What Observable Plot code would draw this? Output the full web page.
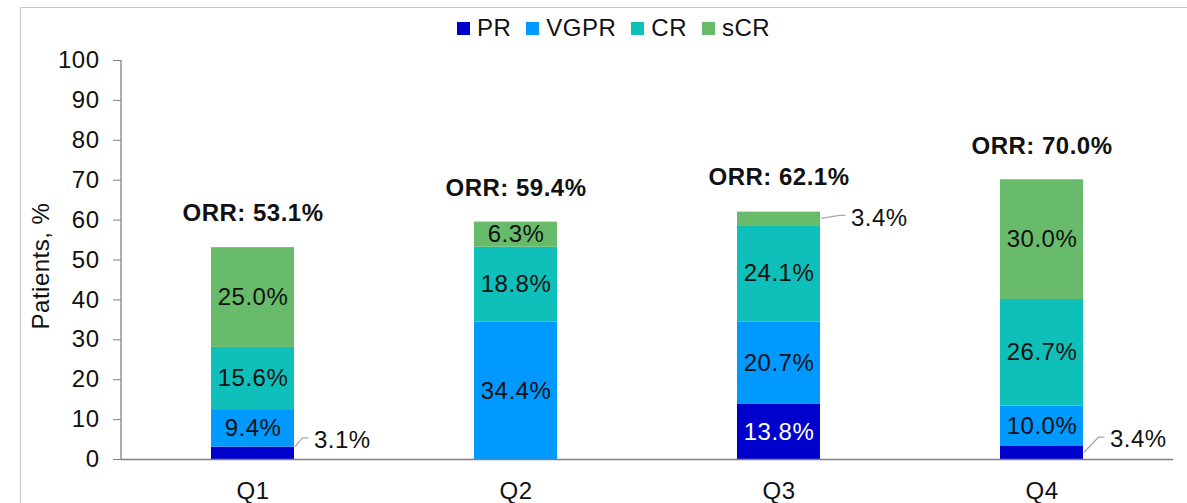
<!DOCTYPE html>
<html>
<head>
<meta charset="utf-8">
<script src="https://cdn.jsdelivr.net/npm/d3@7"></script>
<script src="https://cdn.jsdelivr.net/npm/@observablehq/plot@0.6"></script>
<style>
  body { margin: 0; background: #fff; font-family: "Liberation Sans", Arial, sans-serif; }
  #wrap { position: relative; width: 1187px; height: 503px; overflow: hidden; }
  #frame { position: absolute; left: 20px; top: 7px; width: 1180px; height: 510px;
           border-left: 1px solid #c8c8c8; border-top: 1px solid #c8c8c8; pointer-events: none; }
  #legend { height: 48px; position: relative; }
  #legend .items { position: absolute; left: 457px; top: 14px; display: flex; align-items: center; gap: 0; }
  #legend .item { display: flex; align-items: center; margin-right: 15px; font-size: 24px; letter-spacing: 0.5px; color: #111; line-height: 28px; }
  #legend .sw { width: 13px; height: 13px; margin-right: 7px; }
  svg { display: block; }
</style>
</head>
<body>
<div id="wrap">
  <div id="frame"></div>
  <div id="legend"><div class="items"></div></div>
  <div id="chart"></div>
</div>
<script>
const quarters = ["Q1", "Q2", "Q3", "Q4"];
const responses = ["PR", "VGPR", "CR", "sCR"];
const colors = ["#0000cc", "#0099ff", "#0fbfb9", "#68bb6b"];
const PR   = [3.1, 0, 13.8, 3.4];
const VGPR = [9.4, 34.4, 20.7, 10.0];
const CR   = [15.6, 18.8, 24.1, 26.7];
const sCR  = [25.0, 6.3, 3.4, 30.0];
const ORR  = [53.1, 59.4, 62.1, 70.0];
const yTicks = [0, 10, 20, 30, 40, 50, 60, 70, 80, 90, 100];

// outside-label styling (offsets, not data)
const outside = {
  "Q1|PR":  {dx: 61, dy: -13, from: "top"},
  "Q3|sCR": {dx: 72, dy: -1,  from: "mid"},
  "Q4|PR":  {dx: 68, dy: -13, from: "mid"}
};

const series = {PR, VGPR, CR, sCR};
const rows = [];
quarters.forEach((q, i) => {
  let acc = 0;
  responses.forEach(r => {
    const v = series[r][i];
    rows.push({quarter: q, response: r, value: v, y1: acc, y2: acc + v, mid: acc + v / 2});
    acc += v;
  });
});
const orrRows = quarters.map((q, i) => ({quarter: q, orr: ORR[i]}));
const fmt = v => v.toFixed(1) + "%";

// legend
const items = document.querySelector("#legend .items");
responses.forEach((r, i) => {
  const it = document.createElement("div");
  it.className = "item";
  it.innerHTML = `<span class="sw" style="background:${colors[i]}"></span><span>${r}</span>`;
  items.appendChild(it);
});

const W = 1187, H = 455, mL = 121, mR = 14, mT = 12, mB = 44;
const padInner = 0.684;
const FS = 24;

const inside = rows.filter(d => d.value > 0 && !outside[d.quarter + "|" + d.response]);
const outs = rows.filter(d => outside[d.quarter + "|" + d.response]);

const outsideMarks = outs.map(d => {
  const o = outside[d.quarter + "|" + d.response];
  return Plot.text([d], {x: "quarter", y: "mid", text: d => fmt(d.value), dx: o.dx, dy: o.dy,
    textAnchor: "start", fontSize: FS, fill: "#111"});
});

const leaderMark = (index, scales, values, dims) => {
  const g = d3.create("svg:g").attr("fill", "none").attr("stroke", "#a8a8a8").attr("stroke-width", 1.2);
  const xs = scales.x, ys = scales.y;
  const step = (dims.width - dims.marginLeft - dims.marginRight) / (quarters.length + padInner);
  let bw = typeof xs.bandwidth === "function" ? xs.bandwidth() : (typeof xs.bandwidth === "number" ? xs.bandwidth : step * (1 - padInner));
  outs.forEach(d => {
    const o = outside[d.quarter + "|" + d.response];
    const x0 = xs(d.quarter);
    const cx = x0 + bw / 2;
    const right = x0 + bw + 1;
    const sy = o.from === "top" ? ys(d.y2) : ys(d.mid);
    const ly = ys(d.mid) + o.dy - 2;
    const lx = cx + o.dx;
    g.append("path").attr("d", `M${right},${sy}L${lx - 11},${ly}L${lx - 5},${ly}`);
  });
  return g.node();
};

const yAxisLine = (index, scales, values, dims) => {
  const g = d3.create("svg:g");
  g.append("line").attr("x1", dims.marginLeft).attr("x2", dims.marginLeft)
    .attr("y1", scales.y(0)).attr("y2", scales.y(100)).attr("stroke", "#808080").attr("stroke-width", 1.3);
  return g.node();
};

const chart = Plot.plot({
  width: W, height: H,
  marginLeft: mL, marginRight: mR, marginTop: mT, marginBottom: mB,
  style: {fontFamily: "'Liberation Sans', Arial, sans-serif", background: "#fff", overflow: "visible", letterSpacing: "0.5px"},
  x: {domain: quarters, paddingInner: padInner, paddingOuter: padInner / 2, label: null},
  y: {domain: [0, 100], label: null},
  color: {domain: responses, range: colors},
  marks: [
    Plot.barY(rows.filter(d => d.value > 0), {x: "quarter", y1: "y1", y2: "y2", fill: "response"}),
    Plot.ruleY([0], {stroke: "#808080", strokeWidth: 1.3}),
    yAxisLine,
    Plot.axisY({ticks: yTicks, tickSize: 8, tickPadding: 14, fontSize: FS, fill: "#111", stroke: "#808080", label: null}),
    Plot.axisX({tickSize: 0, tickPadding: 22, fontSize: FS, fill: "#111", label: null}),
    Plot.text(inside, {x: "quarter", y: "mid", text: d => fmt(d.value), fontSize: FS,
      fill: d => d.response === "PR" ? "#ffffff" : "#111"}),
    ...outsideMarks,
    leaderMark,
    Plot.text(orrRows, {x: "quarter", y: "orr", text: d => "ORR: " + fmt(d.orr), dy: -34,
      fontSize: FS, fontWeight: "bold", fill: "#111"}),
    Plot.text([0], {frameAnchor: "left", textAnchor: "middle", text: () => "Patients, %", rotate: -90,
      dx: -80, dy: 6, fontSize: FS, fill: "#111"})
  ]
});
document.getElementById("chart").appendChild(chart);
</script>
</body>
</html>
